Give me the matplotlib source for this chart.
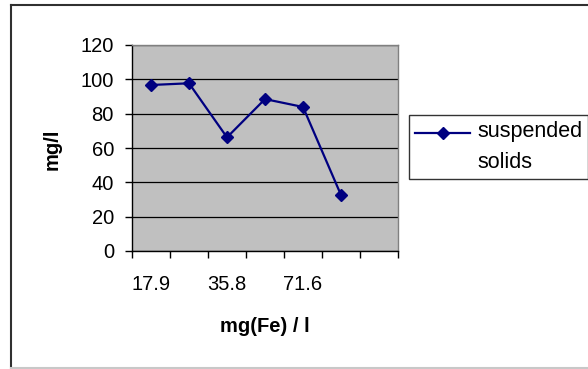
import matplotlib
matplotlib.use("Agg")
import matplotlib.pyplot as plt
from matplotlib.lines import Line2D
import numpy as np

plt.rcParams["font.family"] = ["Liberation Sans", "DejaVu Sans"]

# category axis: seven slots, only some carry a label
categories = ["17.9", "", "35.8", "", "71.6", "", ""]
suspended_solids = [96.7, 97.7, 66.2, 88.5, 83.9, 32.6]
y_ticks = [0, 20, 40, 60, 80, 100, 120]

W, H = 588, 369
fig = plt.figure(figsize=(W / 100, H / 100), dpi=100)
fig.patch.set_facecolor("white")

ax = fig.add_axes([132 / W, 1 - 251 / H, (398 - 132) / W, (251 - 45) / H])
ax.set_facecolor("#c0c0c0")

n = len(categories)
xs = [i + 0.5 for i in range(len(suspended_solids))]
ax.plot(xs, suspended_solids, color="#000080", lw=1.6, marker="D",
        markersize=6.5, markerfacecolor="#000080", markeredgecolor="#000080",
        label="suspended\nsolids", zorder=3)

ax.set_xlim(0, n)
ax.set_ylim(0, 120)
ax.set_yticks(y_ticks)
ax.set_yticklabels([str(v) for v in y_ticks])
ax.set_xticks(range(n + 1))
ax.set_xticklabels([])
ax.set_xticks([i + 0.5 for i in range(n)], minor=True)
ax.set_xticklabels(categories, minor=True)
ax.tick_params(axis="x", which="minor", length=0, pad=17, labelsize=14.5)
ax.tick_params(axis="x", which="major", length=5, width=1, color="black")
ax.tick_params(axis="y", length=5, width=1, pad=8, labelsize=14.5)

ax.yaxis.grid(True, color="black", lw=0.9)
ax.set_axisbelow(True)
for side in ("top", "right"):
    ax.spines[side].set_color("#808080")
    ax.spines[side].set_linewidth(1)
for side in ("left", "bottom"):
    ax.spines[side].set_color("black")
    ax.spines[side].set_linewidth(1)

fig.text(265 / W, 1 - 326 / H, "mg(Fe) / l", ha="center", va="center",
         fontsize=14.5, fontweight="bold")
fig.text(52 / W, 1 - 149 / H, "mg/l", ha="center", va="center",
         rotation=90, fontsize=14.5, fontweight="bold")

leg = ax.legend(loc="upper left", bbox_to_anchor=(409 / W, 1 - 115 / H),
                bbox_transform=fig.transFigure, borderaxespad=0,
                frameon=True, fancybox=False, fontsize=15.5,
                handlelength=2.56, handletextpad=0.33, borderpad=0.28)
leg.get_frame().set_edgecolor("black")
leg.get_frame().set_linewidth(1)
for t in leg.get_texts():
    t.set_linespacing(1.65)
# keep the legend key level with the first line of its label
for h in leg.legend_handles:
    h.set_ydata(np.asarray(h.get_ydata()) + 10.5)

# chart-area border
fig.add_artist(Line2D([11 / W, 11 / W], [0, 1 - 4.5 / H],
                      transform=fig.transFigure, color="#303030", lw=1.5))
fig.add_artist(Line2D([11 / W, 1], [1 - 4.5 / H, 1 - 4.5 / H],
                      transform=fig.transFigure, color="#303030", lw=1.5))
fig.add_artist(Line2D([11 / W, 1], [1 - 368 / H, 1 - 368 / H],
                      transform=fig.transFigure, color="#c8c8c8", lw=1.5))

fig.savefig("out.png", dpi=100)
